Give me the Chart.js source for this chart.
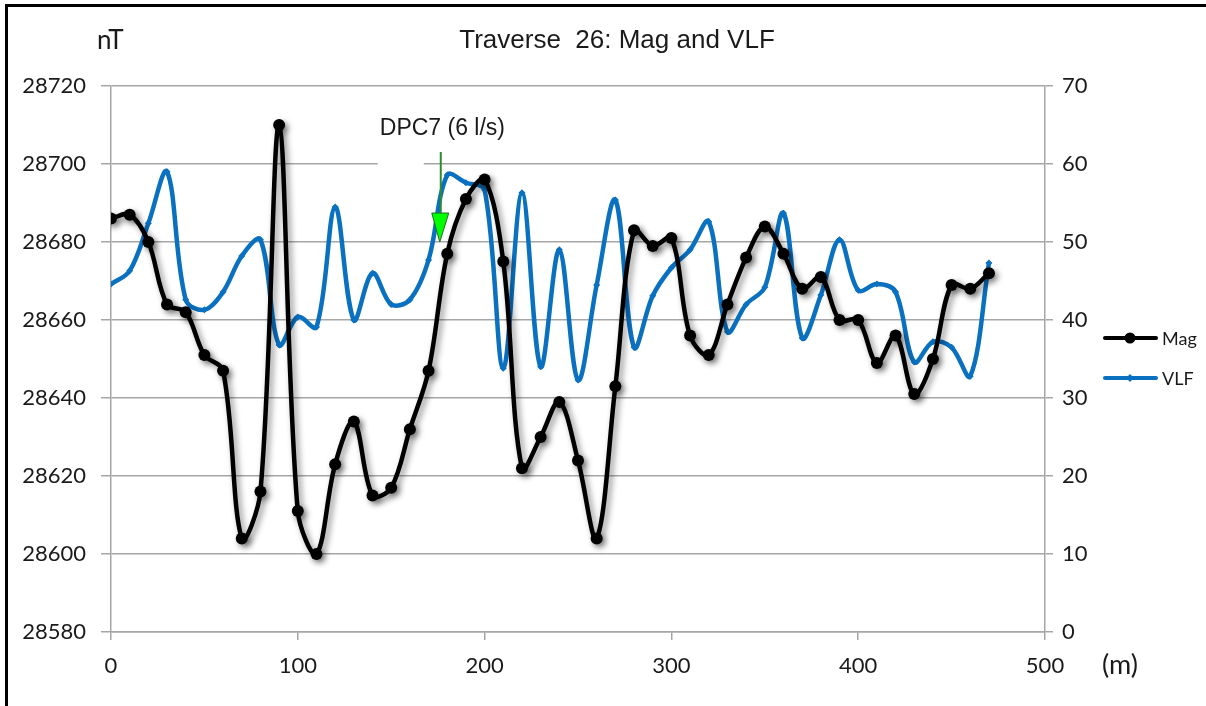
<!DOCTYPE html>
<html>
<head>
<meta charset="utf-8">
<title>Traverse 26: Mag and VLF</title>
<script src="https://cdn.jsdelivr.net/npm/chart.js@4"></script>
<style>
  html, body { margin: 0; padding: 0; background: #fff; }
  #wrap { position: relative; width: 1206px; height: 706px; }
  canvas { display: block; }
</style>
</head>
<body>
<div id="wrap"><canvas id="chart" width="1206" height="706"></canvas></div>
<script>
// Station positions along the traverse (m)
const distances = [0, 10, 20, 30, 40, 50, 60, 70, 80, 90,
  100, 110, 120, 130, 140, 150, 160, 170, 180, 190,
  200, 210, 220, 230, 240, 250, 260, 270, 280, 290,
  300, 310, 320, 330, 340, 350, 360, 370, 380, 390,
  400, 410, 420, 430, 440, 450, 460, 470];

// Total magnetic field (nT)
const magValues = [28686, 28687, 28680, 28664, 28662, 28651, 28647, 28604, 28616, 28710,
  28611, 28600, 28623, 28634, 28615, 28617, 28632, 28647, 28677, 28691,
  28696, 28675, 28622, 28630, 28639, 28624, 28604, 28643, 28683, 28679,
  28681, 28656, 28651, 28664, 28676, 28684, 28677, 28668, 28671, 28660,
  28660, 28649, 28656, 28641, 28650, 28669, 28668, 28672];

// VLF response
const vlfValues = [44.6, 46.3, 52.4, 59.0, 42.6, 41.3, 43.6, 48.2, 50.3, 36.8,
  40.4, 39.1, 54.5, 40.0, 46.0, 42.0, 42.6, 47.7, 58.6, 57.6,
  56.7, 33.8, 56.3, 34.0, 49.0, 32.3, 44.5, 55.4, 36.5, 43.1,
  46.7, 49.0, 52.6, 38.5, 42.0, 44.2, 53.7, 37.7, 43.2, 50.3,
  43.8, 44.6, 43.6, 34.6, 37.2, 36.5, 32.8, 47.3];

// Axis ranges and tick steps
const xRange = [0, 500, 100];
const magRange = [28580, 28720, 20];
const vlfRange = [0, 70, 10];

// Marked discharge point on the traverse
const dpcLabel = 'DPC7 (6 l/s)';
const dpcDistance = 176;
const dpcTipMag = 28680;

const titleText = 'Traverse  26: Mag and VLF';
const magName = 'Mag';
const vlfName = 'VLF';

const GRID = '#a6a6a6';
const TEXT = '#1a1a1a';
const BLUE = '#0a70c0';
const TICK_FONT = { family: 'Lato', size: 22 };
const plainNumber = v => String(v);

function pts(xs, ys) { return xs.map((x, i) => ({ x: x, y: ys[i] })); }

const decorations = {
  id: 'decorations',
  beforeDraw(chart) {
    const ctx = chart.ctx;
    ctx.save();
    ctx.fillStyle = '#fff';
    ctx.fillRect(0, 0, chart.width, chart.height);
    ctx.restore();
  },
  beforeDatasetsDraw(chart) {
    // text box behind the DPC7 label clears part of the 28700 gridline
    const ctx = chart.ctx;
    const y = chart.scales.y.getPixelForValue(28700);
    const ax = chart.scales.x.getPixelForValue(dpcDistance);
    ctx.save();
    ctx.fillStyle = '#fff';
    ctx.fillRect(ax - 62, y - 3, 46, 6);
    ctx.restore();
  },
  beforeDatasetDraw(chart, args) {
    if (args.index === 0) {
      const ctx = chart.ctx;
      ctx.save();
      ctx.shadowColor = 'rgba(0,0,0,0.45)';
      ctx.shadowBlur = 6;
      ctx.shadowOffsetX = 3;
      ctx.shadowOffsetY = 3;
    }
  },
  afterDatasetDraw(chart, args) {
    if (args.index === 0) chart.ctx.restore();
  },
  afterDraw(chart) {
    const ctx = chart.ctx;
    const xs = chart.scales.x, ys = chart.scales.y;
    ctx.save();

    // frame
    ctx.fillStyle = '#000';
    ctx.fillRect(5, 4, chart.width - 5, 3);
    ctx.fillRect(5, 4, 3, chart.height - 4);

    // title and axis units
    ctx.fillStyle = TEXT;
    ctx.textBaseline = 'middle';
    ctx.font = '26px "Liberation Sans", Arial, sans-serif';
    ctx.textAlign = 'center';
    ctx.fillText(titleText, 617, 41);
    ctx.font = '26px Lato, sans-serif';
    ctx.textAlign = 'left';
    ctx.fillText('nT', 97, 41);
    ctx.font = '27px Lato, sans-serif';
    ctx.fillText('(m)', 1102, 665);

    // DPC7 annotation with arrow
    const ax = xs.getPixelForValue(dpcDistance);
    const tipY = ys.getPixelForValue(dpcTipMag);
    ctx.font = '23px "Liberation Sans", Arial, sans-serif';
    ctx.fillStyle = TEXT;
    ctx.fillText(dpcLabel, ax - 60, 129);
    ctx.strokeStyle = '#2e8b2e';
    ctx.lineWidth = 2;
    ctx.beginPath();
    ctx.moveTo(ax + 1, 152);
    ctx.lineTo(ax + 1, tipY - 28);
    ctx.stroke();
    ctx.beginPath();
    ctx.moveTo(ax - 8, tipY - 29);
    ctx.lineTo(ax + 9, tipY - 29);
    ctx.lineTo(ax, tipY);
    ctx.closePath();
    ctx.fillStyle = '#00ff00';
    ctx.fill();
    ctx.lineWidth = 1;
    ctx.strokeStyle = '#1f6f1f';
    ctx.stroke();

    // legend
    const items = [
      { name: magName, color: '#000', y: 338, marker: 'circle' },
      { name: vlfName, color: BLUE, y: 378, marker: 'diamond' }
    ];
    ctx.font = '18px Lato, sans-serif';
    items.forEach(it => {
      ctx.strokeStyle = it.color;
      ctx.fillStyle = it.color;
      ctx.lineWidth = 4;
      ctx.lineCap = 'round';
      ctx.beginPath();
      ctx.moveTo(1105, it.y);
      ctx.lineTo(1156, it.y);
      ctx.stroke();
      ctx.beginPath();
      if (it.marker === 'circle') {
        ctx.arc(1130, it.y, 5.5, 0, Math.PI * 2);
      } else {
        ctx.moveTo(1130, it.y - 4);
        ctx.lineTo(1134, it.y);
        ctx.lineTo(1130, it.y + 4);
        ctx.lineTo(1126, it.y);
        ctx.closePath();
      }
      ctx.fill();
      ctx.fillStyle = TEXT;
      ctx.textAlign = 'left';
      ctx.textBaseline = 'middle';
      ctx.fillText(it.name, 1162, it.y + 1);
    });
    ctx.restore();
  }
};

new Chart(document.getElementById('chart'), {
  type: 'line',
  data: {
    datasets: [
      {
        label: magName,
        data: pts(distances, magValues),
        yAxisID: 'y',
        borderColor: '#000',
        backgroundColor: '#000',
        borderWidth: 4.5,
        pointRadius: 6,
        pointHoverRadius: 6,
        pointBorderWidth: 0,
        tension: 0.35,
        fill: false
      },
      {
        label: vlfName,
        data: pts(distances, vlfValues),
        yAxisID: 'y1',
        borderColor: BLUE,
        backgroundColor: BLUE,
        borderWidth: 4.5,
        pointStyle: 'rectRot',
        pointRadius: 3.5,
        pointHoverRadius: 3.5,
        pointBorderWidth: 0,
        tension: 0.35,
        fill: false
      }
    ]
  },
  options: {
    responsive: false,
    animation: false,
    devicePixelRatio: 1,
    layout: { padding: { left: 0, right: 0, top: 86, bottom: 0 } },
    plugins: { legend: { display: false }, title: { display: false }, tooltip: { enabled: false } },
    elements: { line: { capBezierPoints: false } },
    scales: {
      x: {
        type: 'linear',
        min: xRange[0], max: xRange[1],
        afterFit(s) { s.height = 74; },
        ticks: { stepSize: xRange[2], font: TICK_FONT, color: TEXT, padding: 13, maxRotation: 0, callback: plainNumber },
        grid: { drawOnChartArea: false, drawTicks: true, tickLength: 8, color: GRID, lineWidth: 1.5 },
        border: { display: true, color: GRID, width: 1.5 }
      },
      y: {
        position: 'left',
        min: magRange[0], max: magRange[1],
        afterFit(s) { s.width = 111; },
        ticks: { stepSize: magRange[2], font: TICK_FONT, color: TEXT, padding: 15, callback: plainNumber },
        grid: { color: GRID, lineWidth: 1.5, tickLength: 10 },
        border: { display: true, color: GRID, width: 1.5 }
      },
      y1: {
        position: 'right',
        min: vlfRange[0], max: vlfRange[1],
        afterFit(s) { s.width = 161; },
        ticks: { stepSize: vlfRange[2], font: TICK_FONT, color: TEXT, padding: 9, callback: plainNumber },
        grid: { drawOnChartArea: false, color: GRID, lineWidth: 1.5, tickLength: 8 },
        border: { display: true, color: GRID, width: 1.5 }
      }
    }
  },
  plugins: [decorations]
});
</script>
</body>
</html>
